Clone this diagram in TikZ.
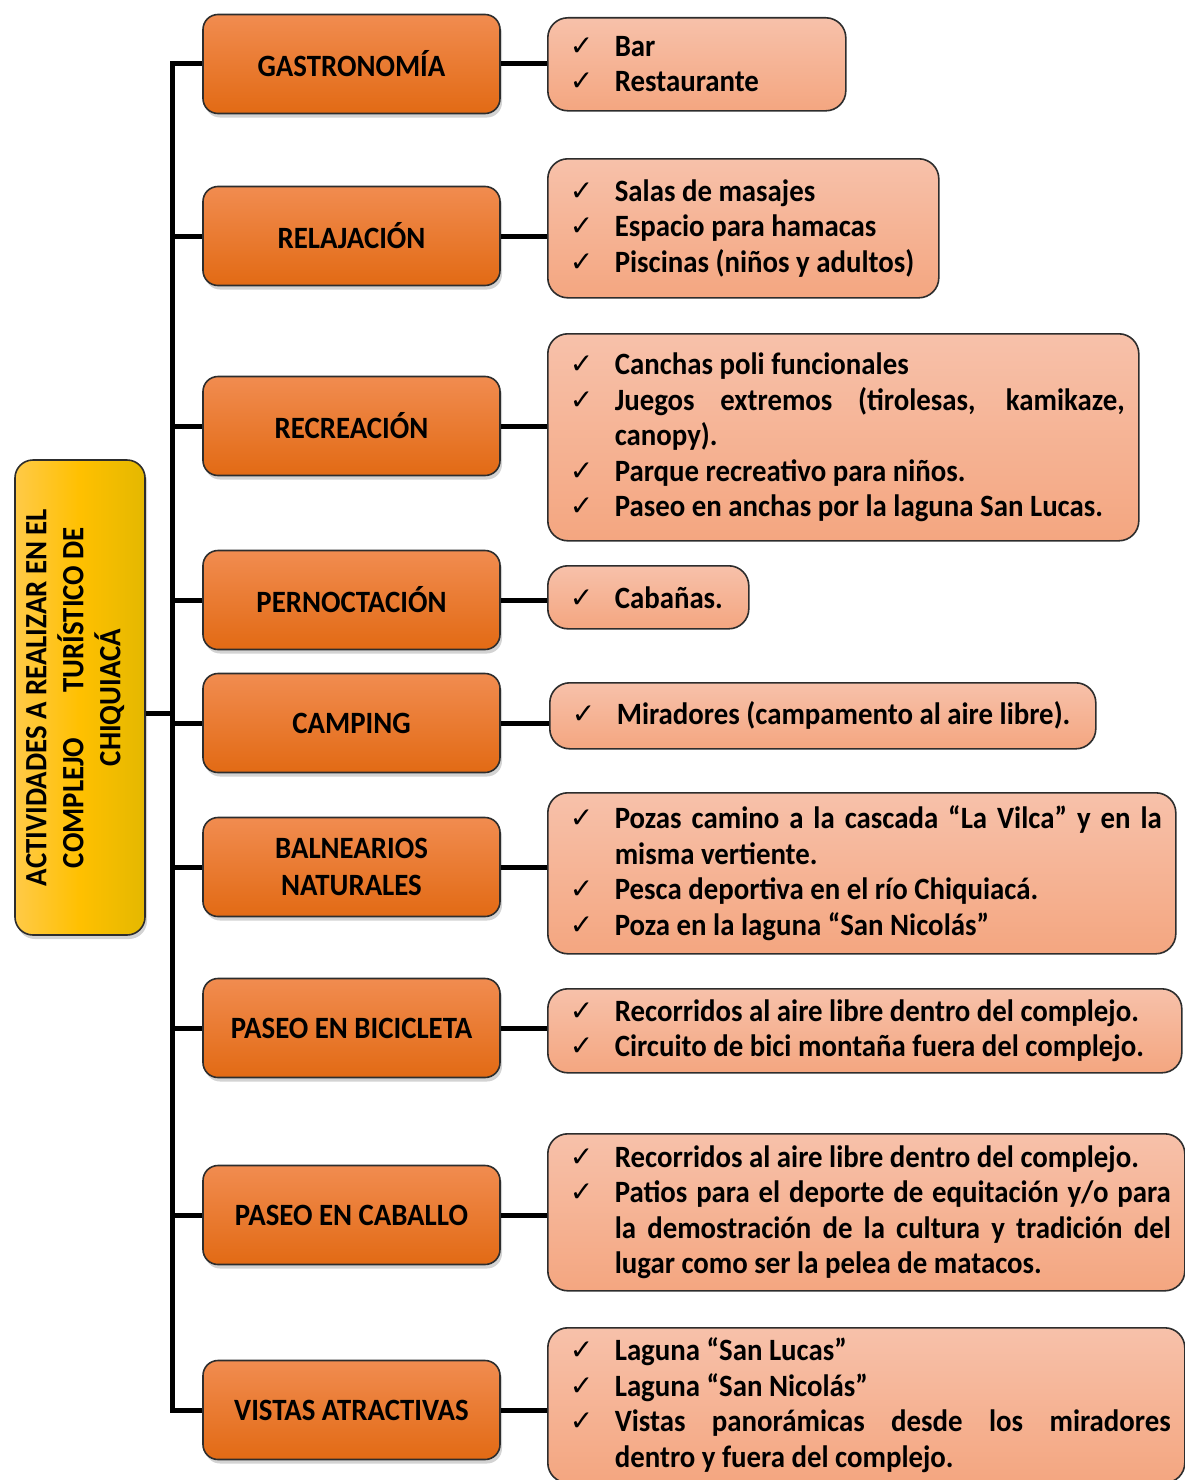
\documentclass[tikz,border=0pt]{standalone}
\usepackage{fontspec}
\usepackage{graphicx}
\usepackage{xcolor}
\usepackage{tikz}
\usetikzlibrary{positioning, calc, shadows}
\setmainfont{Carlito}[FakeStretch=0.93]
\newfontfamily\ckfamily{DejaVu Sans}
\definecolor{catTop}{RGB}{241, 140, 80}
\definecolor{catBot}{RGB}{226, 106, 20}
\definecolor{listTop}{RGB}{247, 193, 170}
\definecolor{listBot}{RGB}{244, 166, 128}
\definecolor{goldL}{RGB}{255, 202, 72}
\definecolor{goldM}{RGB}{255, 192, 0}
\definecolor{goldR}{RGB}{228, 184, 0}
\definecolor{edgeGray}{RGB}{45, 45, 45}
\newcommand{\chk}{\raisebox{1pt}{\ckfamily\fontsize{28}{28}\selectfont ✓}}
\newcommand{\itm}[1]{\noindent\hangindent=53pt\hbox to 53pt{\hspace{8pt}\chk\hfil}#1\par}
\tikzset{
  wire/.style={line width=5pt, black},
  catbox/.style={draw=edgeGray, line width=1.6pt, rounded corners=15pt,
    top color=catTop, bottom color=catBot, minimum width=297pt, minimum height=99pt,
    align=center, font=\fontsize{31}{37}\selectfont\bfseries,
    drop shadow={shadow xshift=2pt, shadow yshift=-4pt, opacity=0.35}},
  listbox/.style={draw=edgeGray, line width=1.6pt, rounded corners=20pt,
    top color=listTop, bottom color=listBot, inner xsep=14pt, inner ysep=0pt,
    align=justify, anchor=north west, font=\fontsize{31}{35.5}\selectfont\bfseries},
  mainbox/.style={draw=edgeGray, line width=1.6pt, rounded corners=18pt,
    left color=goldL, right color=goldR, middle color=goldM,
    minimum width=130pt, minimum height=475pt, inner sep=0pt,
    font=\fontsize{31}{36.5}\selectfont\bfseries,
    drop shadow={shadow xshift=2pt, shadow yshift=-4pt, opacity=0.35}}
}
\begin{document}
\begin{tikzpicture}[x=1pt, y=-1pt]
    \useasboundingbox (0,0) rectangle (1185,1480);
    % Main title box
    \node[mainbox] (main) at (80,697.5) {\hspace{-8pt}\rotatebox{90}{\begin{tabular}{@{}c@{}}ACTIVIDADES A REALIZAR EN EL\\ COMPLEJO\hspace{45pt}TURÍSTICO DE\\ CHIQUIACÁ\end{tabular}}};
    \coordinate (spine) at (172,0);
    \coordinate (hub) at (172,713);
    % Activity boxes
    \node[catbox] (gast) at (351.5,64) {GASTRONOMÍA};
    \node[catbox] (relax) at (351.5,236) {RELAJACIÓN};
    \node[catbox] (recre) at (351.5,426) {RECREACIÓN};
    \node[catbox] (pern) at (351.5,600) {PERNOCTACIÓN};
    \node[catbox] (camp) at (351.5,723) {CAMPING};
    \node[catbox] (baln) at (351.5,867) {BALNEARIOS\\NATURALES};
    \node[catbox] (bici) at (351.5,1028) {PASEO EN BICICLETA};
    \node[catbox] (cab) at (351.5,1215) {PASEO EN CABALLO};
    \node[catbox] (vist) at (351.5,1410) {VISTAS ATRACTIVAS};
    % Item lists
    \node[listbox, text width=270pt, minimum height=93pt] (gitems) at (547,17) {\itm{Bar}\itm{Restaurante}};
    \node[listbox, text width=363pt, minimum height=139pt] (ritems) at (547,158) {\itm{Salas de masajes}\itm{Espacio para hamacas}\itm{Piscinas (niños y adultos)}};
    \node[listbox, text width=563pt, minimum height=207pt] (citems) at (547,333) {\itm{Canchas poli funcionales}\itm{Juegos extremos (tirolesas, kamikaze,\linebreak canopy).}\itm{Parque recreativo para niños.}\itm{Paseo en anchas por la laguna San Lucas.}};
    \node[listbox, text width=173pt, minimum height=63pt] (pitems) at (547,565) {\itm{Cabañas.}};
    \node[listbox, text width=518pt, minimum height=66pt] (mitems) at (549,682) {\itm{Miradores (campamento al aire libre).}};
    \node[listbox, text width=600pt, minimum height=161pt] (bitems) at (547,792) {\itm{Pozas camino a la cascada “La Vilca” y en la\linebreak misma vertiente.}\itm{Pesca deportiva en el río Chiquiacá.}\itm{Poza en la laguna “San Nicolás”}};
    \node[listbox, text width=606pt, minimum height=84pt] (titems) at (547,988) {\itm{Recorridos al aire libre dentro del complejo.}\itm{Circuito de bici montaña fuera del complejo.}};
    \node[listbox, text width=609pt, minimum height=157pt] (kitems) at (547,1133) {\itm{Recorridos al aire libre dentro del complejo.}\itm{Patios para el deporte de equitación y/o para\linebreak la demostración de la cultura y tradición del\linebreak lugar como ser la pelea de matacos.}};
    \node[listbox, text width=609pt, minimum height=155pt] (vitems) at (547,1327) {\itm{Laguna “San Lucas”}\itm{Laguna “San Nicolás”}\itm{Vistas panorámicas desde los miradores\linebreak dentro y fuera del complejo.}};
    % Spine and branches
    \draw[wire] (gast.west) -- (gast.west -| spine) |- (vist.west);
    \foreach \c in {relax, recre, pern, camp, baln, bici, cab}
      \draw[wire] (\c.west) -- (\c.west -| spine);
    \draw[wire] (main.east |- hub) -- (hub);
    % Activity to list
    \foreach \c/\l in {gast/gitems, relax/ritems, recre/citems, pern/pitems, camp/mitems, baln/bitems, bici/titems, cab/kitems, vist/vitems}
      \draw[wire] (\c.east) -- (\c.east -| \l.west);
\end{tikzpicture}
\end{document}
